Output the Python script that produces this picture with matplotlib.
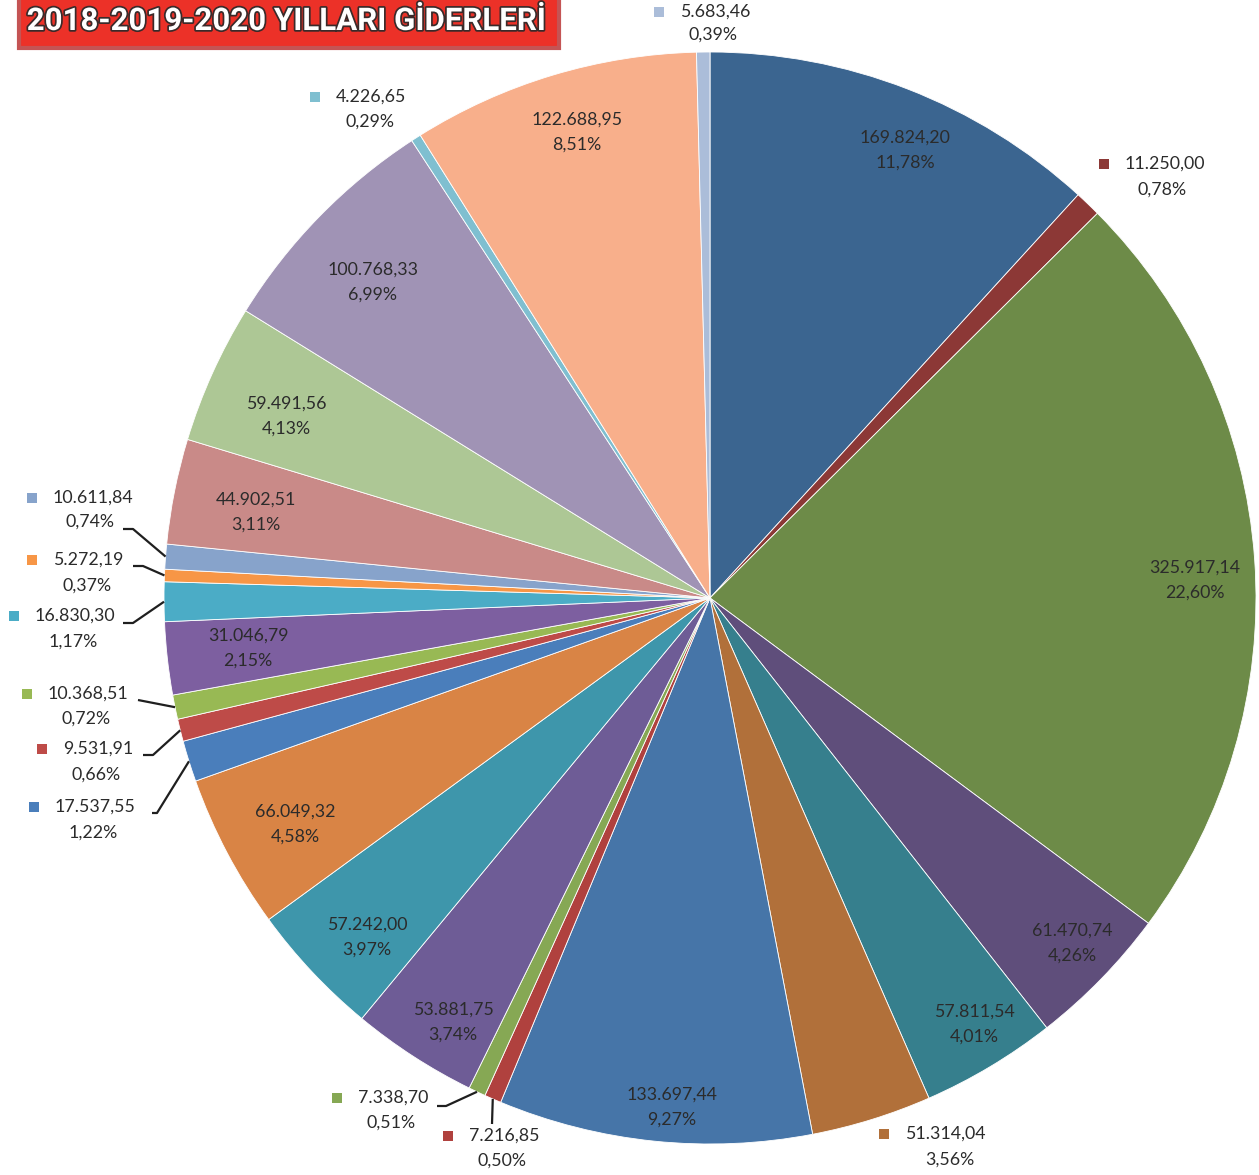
import matplotlib
matplotlib.use("Agg")
import numpy as np
import matplotlib.pyplot as plt
from matplotlib.patches import Rectangle
import matplotlib.patheffects as pe

# expense totals, clockwise from 12 o'clock
values = [169824.20, 11250.00, 325917.14, 61470.74, 57811.54, 51314.04,
          133697.44, 7216.85, 7338.70, 53881.75, 57242.00, 66049.32,
          17537.55, 9531.91, 10368.51, 31046.79, 16830.30, 5272.19,
          10611.84, 44902.51, 59491.56, 100768.33, 4226.65, 122688.95,
          5683.46]
percents = ["11,78%", "0,78%", "22,60%", "4,26%", "4,01%", "3,56%",
            "9,27%", "0,50%", "0,51%", "3,74%", "3,97%", "4,58%",
            "1,22%", "0,66%", "0,72%", "2,15%", "1,17%", "0,37%",
            "0,74%", "3,11%", "4,13%", "6,99%", "0,29%", "8,51%",
            "0,39%"]
colors = ["#3B6590", "#8C3836", "#6D8B48", "#5F4E7B", "#367F8D", "#B1703A",
          "#4675A8", "#B0413E", "#86A854", "#6E5C96", "#3E96AB", "#D98445",
          "#4A7EBB", "#BE4B48", "#98B954", "#7D5FA0", "#4BACC6", "#F79646",
          "#87A3CB", "#C98A88", "#ADC795", "#A093B5", "#7FBFD0", "#F8AF8B",
          "#ABBDD9"]

W, H = 1259, 1175
CX, CY, R = 710, 598, 546
TXT = "#2b2b2b"
FONT = "Lato"
FS = 12.8


def fmt_tr(v):
    s = f"{v:,.2f}"
    return s.replace(",", "X").replace(".", ",").replace("X", ".")


def Y(y):
    return H - y


# inside labels: slice index -> block centre (px)
inside = {0: (905, 150), 2: (1195, 580), 3: (1072, 943), 4: (974, 1024),
          6: (672, 1107), 9: (453, 1022), 10: (367, 937), 11: (295, 824),
          15: (248, 648), 19: (256, 512), 20: (286, 416), 21: (373, 282),
          23: (577, 132)}

# outside labels: slice index -> (line1 left x, line1 y, line2 centre x, line2 y, leader start pts)
outside = {
    1: (1125, 164, 1162, 190, None),
    5: (905, 1134, 950, 1160, None),
    7: (469, 1136, 502, 1161, [(492, 1124)]),
    8: (358, 1098, 391, 1123, [(437, 1106), (446, 1106)]),
    22: (336, 97, 370, 122, None),
    24: (680, 12, 713, 35, None),
    18: (53, 498, 90, 522, [(123, 529), (133, 529)]),
    17: (53, 560, 87, 586, [(133, 566), (143, 566)]),
    16: (35, 616, 73, 642, [(123, 623), (133, 623)]),
    14: (48, 694, 86, 719, [(138, 700)]),
    13: (63, 749, 96, 775, [(143, 755), (153, 755)]),
    12: (55, 807, 93, 833, [(152, 813), (157, 813)]),
}

fig = plt.figure(figsize=(W / 100, H / 100), dpi=100)
ax = fig.add_axes([0, 0, 1, 1])

ax.pie(values, colors=colors, startangle=90, counterclock=False,
       center=(CX, Y(CY)), radius=R,
       wedgeprops=dict(edgecolor="white", linewidth=0.6))
ax.set_xlim(0, W)
ax.set_ylim(0, H)
ax.set_aspect("equal")
ax.axis("off")

total = sum(values)
cum = np.cumsum([0] + values[:-1]) / total
mids = cum + np.array(values) / total / 2

for i, (x, y) in inside.items():
    ax.text(x, Y(y - 12.5), fmt_tr(values[i]), ha="center", va="center",
            fontsize=FS, family=FONT, color=TXT)
    ax.text(x, Y(y + 12.5), percents[i], ha="center", va="center",
            fontsize=FS, family=FONT, color=TXT)

for i, (x1, y1, x2, y2, pts) in outside.items():
    ax.text(x1, Y(y1), fmt_tr(values[i]), ha="left", va="center",
            fontsize=FS, family=FONT, color=TXT)
    ax.text(x2, Y(y2), percents[i], ha="center", va="center",
            fontsize=FS, family=FONT, color=TXT)
    ax.add_patch(Rectangle((x1 - 26, Y(y1) - 5), 10, 10, facecolor=colors[i],
                           edgecolor="none"))
    if pts:
        ang = np.deg2rad(90 - mids[i] * 360)
        ex, ey = CX + R * np.cos(ang), Y(CY) + R * np.sin(ang)
        xs = [p[0] for p in pts] + [ex]
        ys = [Y(p[1]) for p in pts] + [ey]
        ax.plot(xs, ys, color="#1f1f1f", lw=1.6, solid_capstyle="butt")

# title banner
ax.add_patch(Rectangle((19, Y(48)), 540, 60, facecolor="#EC3128",
                       edgecolor="#C45454", linewidth=3, zorder=5))
ax.text(287, Y(21), "2018-2019-2020 YILLARI GİDERLERİ", ha="center", va="center",
        fontsize=22.5, fontweight="bold", color="white",
        family=["Roboto", "DejaVu Sans"], zorder=6,
        path_effects=[pe.withStroke(linewidth=2.5, foreground="#3a2a2a")])

fig.savefig("out.png", dpi=100)
